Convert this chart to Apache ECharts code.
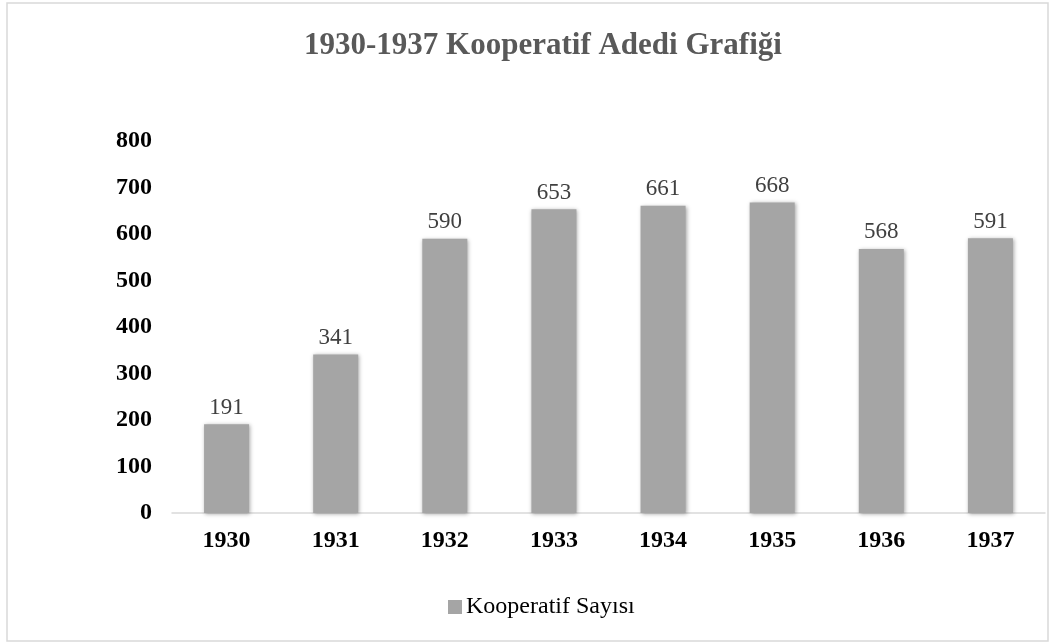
<!DOCTYPE html>
<html>
<head>
<meta charset="utf-8">
<script src="https://cdn.jsdelivr.net/npm/echarts@6/dist/echarts.min.js"></script>
<style>
  html, body { margin: 0; padding: 0; background: #fff; }
  #main { width: 1056px; height: 644px; }
</style>
</head>
<body>
<div id="main"></div>
<script>
var years = ['1930', '1931', '1932', '1933', '1934', '1935', '1936', '1937'];
var kooperatifSayisi = [191, 341, 590, 653, 661, 668, 568, 591];
var yTicks = { min: 0, max: 800, interval: 100 };

var serif = '"Liberation Serif", "DejaVu Serif", serif';

var myChart = echarts.init(document.getElementById('main'));
var option = {
  backgroundColor: '#fff',
  animation: false,
  title: {
    text: '1930-1937 Kooperatif Adedi Grafiği',
    left: 299,
    top: 25,
    textStyle: {
      fontFamily: serif,
      fontSize: 31,
      fontWeight: 'bold',
      color: '#595959'
    }
  },
  graphic: [{
    type: 'rect',
    shape: { x: 7, y: 3, width: 1041, height: 638 },
    style: { fill: 'none', stroke: '#d9d9d9', lineWidth: 1.5 },
    silent: true
  }],
  legend: {
    bottom: 20,
    left: 443,
    itemWidth: 14,
    itemHeight: 14,
    itemGap: 4,
    icon: 'rect',
    textStyle: { fontFamily: serif, fontSize: 24, color: '#000', padding: [0, 0, 0, -1] },
    data: ['Kooperatif Sayısı']
  },
  grid: { left: 172, right: 11, top: 141, bottom: 131 },
  xAxis: {
    type: 'category',
    data: years,
    axisLine: { lineStyle: { color: '#d9d9d9', width: 1.5 } },
    axisTick: { show: false },
    axisLabel: {
      margin: 16,
      fontFamily: serif,
      fontSize: 24,
      fontWeight: 'bold',
      color: '#000'
    }
  },
  yAxis: {
    type: 'value',
    min: yTicks.min,
    max: yTicks.max,
    interval: yTicks.interval,
    splitLine: { show: false },
    axisLine: { show: false },
    axisTick: { show: false },
    axisLabel: {
      margin: 20,
      fontFamily: serif,
      fontSize: 24,
      fontWeight: 'bold',
      color: '#000'
    }
  },
  series: [{
    name: 'Kooperatif Sayısı',
    type: 'bar',
    data: kooperatifSayisi,
    barWidth: 45,
    itemStyle: {
      color: '#a5a5a5',
      shadowColor: 'rgba(0,0,0,0.35)',
      shadowBlur: 4,
      shadowOffsetX: 1,
      shadowOffsetY: 1
    },
    label: {
      show: true,
      position: 'top',
      distance: 5,
      fontFamily: serif,
      fontSize: 23,
      color: '#404040'
    }
  }]
};
myChart.setOption(option);
</script>
</body>
</html>
